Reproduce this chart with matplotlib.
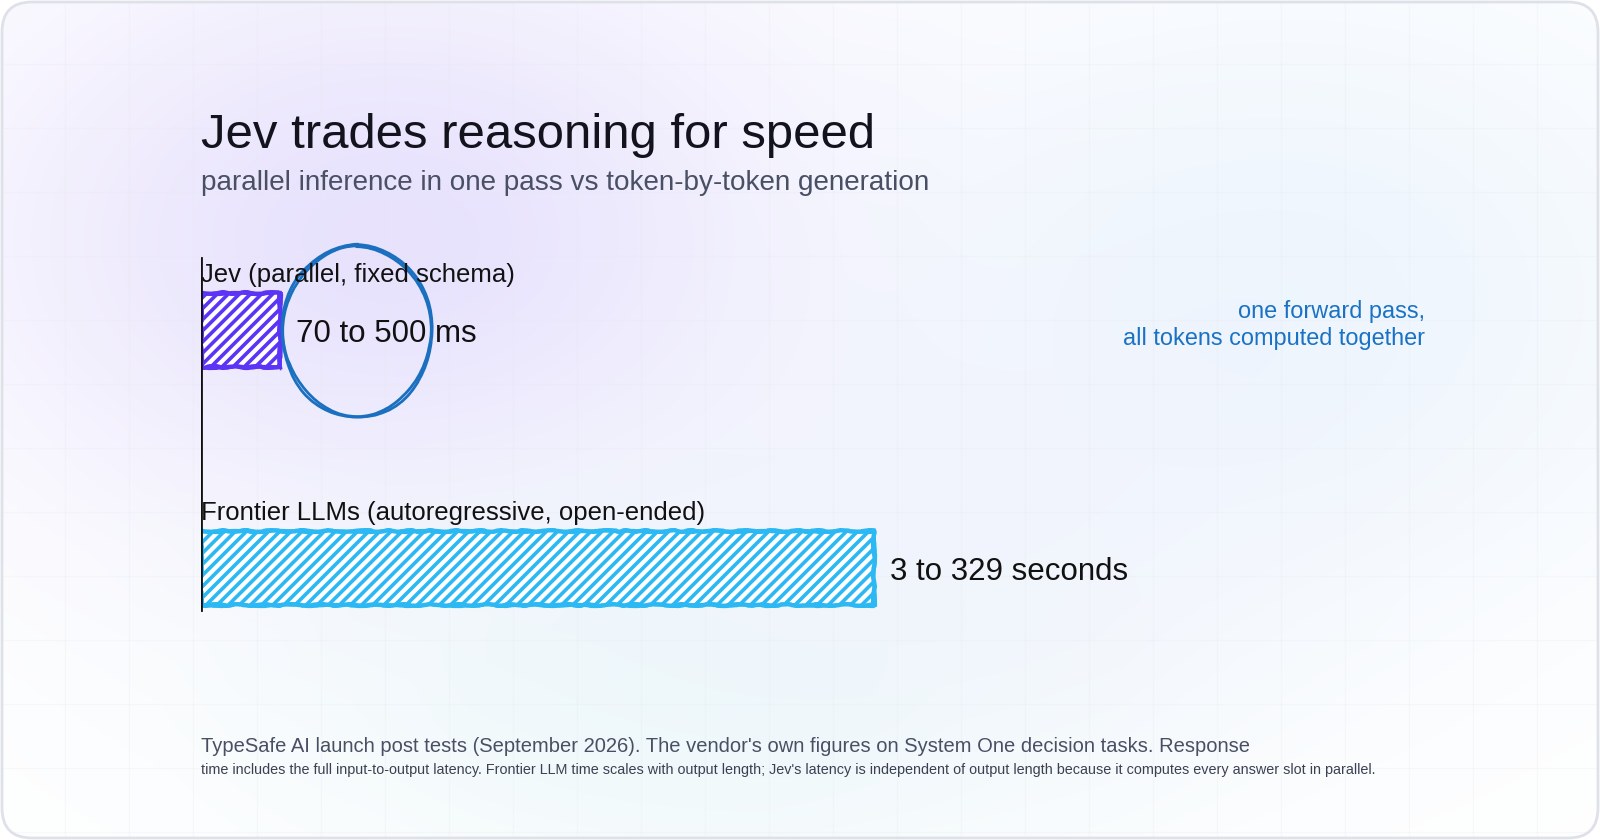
"""
Jev vs frontier LLM response time, hand-drawn bar style.
"""

import numpy as np
import matplotlib.pyplot as plt
from matplotlib.patches import Ellipse, FancyBboxPatch

W, H = 1600, 840

title = "Jev trades reasoning for speed"
subtitle = "parallel inference in one pass vs token-by-token generation"
categories = ["Jev (parallel, fixed schema)", "Frontier LLMs (autoregressive, open-ended)"]
bar_lengths = [6.45, 55.0]  # relative length on a 0-100 scale
value_labels = ["70 to 500 ms", "3 to 329 seconds"]
bar_colors = ["#5b34f5", "#2cb8f2"]
callout = "one forward pass,\nall tokens computed together"
note_1 = ("TypeSafe AI launch post tests (September 2026). The vendor's own figures "
          "on System One decision tasks. Response")
note_2 = ("time includes the full input-to-output latency. Frontier LLM time scales with "
          "output length; Jev's latency is independent of output length because it "
          "computes every answer slot in parallel.")

plt.rcParams["font.family"] = ["Liberation Sans", "DejaVu Sans"]
plt.rcParams["hatch.linewidth"] = 2.6


def fpos(x, y):
    """pixel position (from top-left) -> figure fraction"""
    return x / W, 1 - y / H


fig = plt.figure(figsize=(16, 8.4), dpi=100)
fig.patch.set_facecolor("white")

# background card: soft glows + faint grid
bg = fig.add_axes([0, 0, 1, 1])
bg.set_xlim(0, W)
bg.set_ylim(H, 0)
bg.axis("off")

yy, xx = np.mgrid[0:H, 0:W]
img = np.ones((H, W, 3))
glows = [
    (390, 240, 300, 210, (0.88, 0.85, 0.99), 0.75),
    (1300, 290, 300, 220, (0.89, 0.94, 0.99), 0.6),
    (700, 690, 320, 150, (0.89, 0.96, 0.97), 0.55),
    (980, 520, 260, 160, (0.93, 0.93, 0.99), 0.4),
]
for cx, cy, sx, sy, rgb, a in glows:
    g = a * np.exp(-(((xx - cx) / sx) ** 2 + ((yy - cy) / sy) ** 2) / 2)
    img = img * (1 - g[..., None]) + g[..., None] * np.array(rgb)

card = FancyBboxPatch((2, 2), W - 4, H - 4, boxstyle="round,pad=0,rounding_size=30",
                      facecolor="none", edgecolor="#dfe1e9", linewidth=2, zorder=3)
bg.add_patch(card)
im = bg.imshow(img, extent=(0, W, H, 0), interpolation="bilinear", zorder=0)
im.set_clip_path(card)
for gx in np.arange(1, W, 64):
    ln = bg.axvline(gx, color="#e6e8f0", linewidth=0.8, alpha=0.25, zorder=1)
    ln.set_clip_path(card)
for gy in np.arange(0, H, 64):
    ln = bg.axhline(gy, color="#e6e8f0", linewidth=0.8, alpha=0.25, zorder=1)
    ln.set_clip_path(card)

# titles
fig.text(*fpos(201, 148), title, fontsize=35.4, color="#12131c", va="baseline")
fig.text(*fpos(201, 190), subtitle, fontsize=20.1, color="#4a5064", va="baseline")

# bars
ax = fig.add_axes([201 / W, 1 - 620 / H, 1224 / W, 380 / H])
ax.set_xlim(0, 100)
ax.set_ylim(1.218, -0.378)
ax.axis("off")
ax.patch.set_alpha(0)

ys = np.arange(len(categories))
bars = ax.barh(ys, bar_lengths, height=0.31, color="white", edgecolor=bar_colors,
               hatch="///", linewidth=3.2, zorder=2)
for b in bars:
    b.set_sketch_params(0.8, 40, 5)
outline = ax.barh(ys, bar_lengths, height=0.31, fill=False, edgecolor=bar_colors,
                  linewidth=2.2, zorder=2)
for b in outline:
    b.set_sketch_params(1.1, 90, 8)

ax.axvline(0, ymin=10 / 380, ymax=362 / 380, color="#111111", linewidth=2, zorder=4)

for i, y in enumerate(ys):
    ax.text(0, y - 0.2, categories[i], fontsize=18.5, color="#111111",
            ha="left", va="baseline", zorder=6)
    ax.annotate(value_labels[i], xy=(bar_lengths[i], y), xytext=(16, 0),
                textcoords="offset pixels", fontsize=22.5, color="#111111",
                ha="left", va="center_baseline", zorder=6)

# hand-drawn circle round the Jev value
for w, h, sk in [(12.3, 0.727, (0.6, 150, 4)), (12.0, 0.71, (0.9, 200, 5))]:
    ring = Ellipse((bar_lengths[0] + 6.3, 0.005), width=w, height=h, fill=False,
                   edgecolor="#1a6fbf", linewidth=2.0, zorder=5)
    ring.set_sketch_params(*sk)
    ax.add_patch(ring)

ax.text(100, -0.02, callout, fontsize=16.9, color="#1a72c4", ha="right", va="center",
        multialignment="right", linespacing=1.2, zorder=6)

# source notes (second line is set tighter in the original)
fig.text(*fpos(201, 752), note_1, fontsize=14.5, color="#4a5064", va="baseline")
fig.text(*fpos(201, 774), note_2, fontsize=10.4, color="#3c4152", va="baseline")

fig.savefig("out.png", dpi=100)
plt.close(fig)
